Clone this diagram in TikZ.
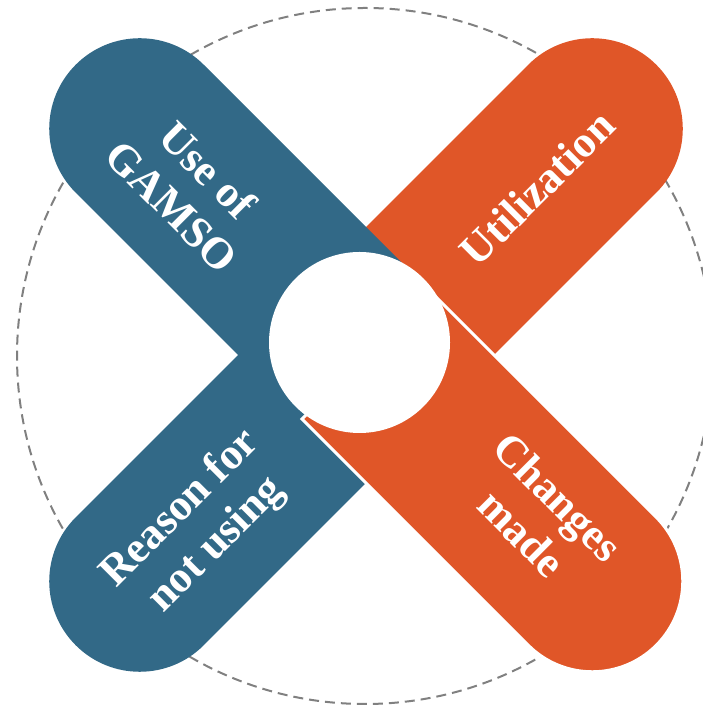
\documentclass[tikz,border=0pt]{standalone}
\usepackage{fontspec}
\setmainfont{Liberation Serif}
\definecolor{armblue}{RGB}{50,105,135}
\definecolor{armorange}{RGB}{224,86,40}
\definecolor{ringgray}{RGB}{128,128,128}
\tikzset{
  armlabel/.style={text=white, align=center, font=\fontsize{44}{51}\selectfont\bfseries, inner sep=0pt},
}
\newcommand{\armpill}[3]{% angle, fill, extra
  \begin{scope}[shift={(366,353)}, rotate=#1]
    \path[fill=#2,#3] (0,-90.5) -- (320,-90.5) arc[start angle=-90, end angle=90, radius=90.5] -- (0,90.5) -- cycle;
  \end{scope}}
\begin{document}
\begin{tikzpicture}[x=1pt,y=1pt]
\useasboundingbox (0,0) rectangle (702,708);
\draw[ringgray, line width=2pt, dash pattern=on 10pt off 6pt] (365,352) circle[radius=348];
\armpill{45}{armorange}{}
\armpill{225}{armblue}{}
\armpill{135}{armblue}{}
\armpill{-45}{armorange}{draw=white, line width=3pt}
\fill[white] (359.5,365.5) circle[radius=90.5];
\node[armlabel, rotate=-45] (use) at (190,520) {Use of\\GAMSO};
\node[armlabel, rotate=45] (util) at (537,520) {Utilization};
\node[armlabel, rotate=45] (reason) at (199,181) {Reason for\\not using};
\node[armlabel, rotate=-45] (changes) at (540,193) {Changes\\made};
\end{tikzpicture}
\end{document}
